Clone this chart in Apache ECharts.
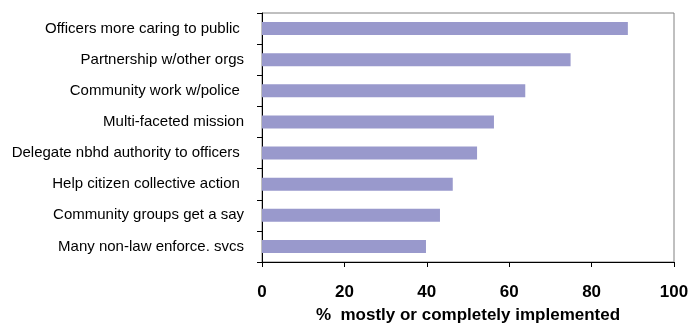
<!DOCTYPE html>
<html><head><meta charset="utf-8">
<script src="https://cdn.jsdelivr.net/npm/echarts@6/dist/echarts.min.js"></script>
<style>html,body{margin:0;padding:0;background:#fff}#c{width:692px;height:333px}</style>
</head><body><div id="c"></div>
<script>
const categories = [
  "Officers more caring to public ",
  "Partnership w/other orgs",
  "Community work w/police ",
  "Multi-faceted mission",
  "Delegate nbhd authority to officers ",
  "Help citizen collective action ",
  "Community groups get a say",
  "Many non-law enforce. svcs"
];
const values = [88.8, 74.9, 63.9, 56.3, 52.2, 46.3, 43.2, 39.8];
const xTicks = [0, 20, 40, 60, 80, 100];
const xTitle = "%  mostly or completely implemented";

const chart = echarts.init(document.getElementById('c'), null, {renderer: 'canvas'});
chart.setOption({
  animation: false,
  grid: {left: 262, right: 18, top: 13, bottom: 71, show: true, borderColor: '#808080', borderWidth: 1},
  xAxis: {
    type: 'value', min: 0, max: 100, interval: 20,
    name: xTitle, nameLocation: 'middle', nameGap: 45,
    nameTextStyle: {fontFamily: 'Liberation Sans', fontSize: 17, fontWeight: 'bold', color: '#000'},
    axisLine: {show: true, lineStyle: {color: '#000', width: 1}},
    axisTick: {show: true, length: 5, lineStyle: {color: '#000'}},
    axisLabel: {fontFamily: 'Liberation Sans', fontSize: 17, fontWeight: 'bold', color: '#000', margin: 22,
      formatter: v => xTicks.includes(v) ? String(v) : ''},
    splitLine: {show: false}
  },
  yAxis: {
    type: 'category', data: categories.slice().reverse(), inverse: false,
    axisLine: {show: true, lineStyle: {color: '#000', width: 1}},
    axisTick: {show: true, length: 5, lineStyle: {color: '#000'}},
    axisLabel: {fontFamily: 'Liberation Sans', fontSize: 15, color: '#000', margin: 18},
    splitLine: {show: false}
  },
  series: [{
    type: 'bar', data: values.slice().reverse(), barWidth: '42%',
    itemStyle: {color: '#9999CC'}
  }]
});
</script></body></html>
